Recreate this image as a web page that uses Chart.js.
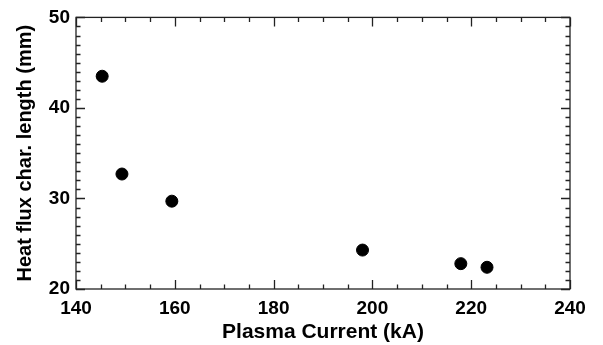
<!DOCTYPE html>
<html>
<head>
<meta charset="utf-8">
<script src="https://cdn.jsdelivr.net/npm/chart.js@4"></script>
<style>
  html, body { margin: 0; padding: 0; background: #fff; }
  canvas { display: block; }
</style>
</head>
<body>
<canvas id="fluxChart" width="603" height="345"></canvas>
<script>
// data
const plasmaCurrent = [145.3, 149.3, 159.4, 198.0, 217.9, 223.2]
const heatFluxLength = [43.5, 32.7, 29.7, 24.3, 22.8, 22.4]

const xTicks = [140, 160, 180, 200, 220, 240]
const yTicks = [20, 30, 40, 50]
const xMinorStep = 5
const yMinorStep = 1

const font = 'Liberation Sans, Arial, Helvetica, sans-serif'

// IDL style: box around the plot, ticks pointing inward on all four sides
const boxTicks = {
  id: 'boxTicks',
  afterDraw(chart) {
    const { ctx, chartArea: a, scales } = chart
    const x = scales.x, y = scales.y
    ctx.save()
    ctx.strokeStyle = '#222'
    ctx.lineWidth = 1.3
    ctx.strokeRect(a.left, a.top, a.right - a.left, a.bottom - a.top)
    ctx.beginPath()
    for (let v = x.min; v <= x.max + 1e-9; v += xMinorStep) {
      const px = Math.round(x.getPixelForValue(v)) + 0.5
      const len = xTicks.includes(v) ? 9 : 4.5
      ctx.moveTo(px, a.bottom); ctx.lineTo(px, a.bottom - len)
      ctx.moveTo(px, a.top); ctx.lineTo(px, a.top + len)
    }
    for (let v = y.min; v <= y.max + 1e-9; v += yMinorStep) {
      const py = Math.round(y.getPixelForValue(v)) + 0.5
      const len = yTicks.includes(v) ? 9 : 4.5
      ctx.moveTo(a.left, py); ctx.lineTo(a.left + len, py)
      ctx.moveTo(a.right, py); ctx.lineTo(a.right - len, py)
    }
    ctx.stroke()
    ctx.restore()
  }
}

const ctx = document.getElementById('fluxChart').getContext('2d')
const chart = new Chart(ctx, {
  type: 'scatter',
  data: {
    datasets: [{
      data: plasmaCurrent.map((v, i) => ({ x: v, y: heatFluxLength[i] })),
      backgroundColor: '#000',
      borderColor: '#000',
      pointRadius: 6,
      pointHoverRadius: 6
    }]
  },
  options: {
    responsive: false,
    animation: false,
    devicePixelRatio: 1,
    layout: { padding: { top: 11, right: 33, left: 0, bottom: 0 } },
    plugins: { legend: { display: false }, tooltip: { enabled: false } },
    scales: {
      x: {
        type: 'linear',
        min: 140,
        max: 240,
        afterBuildTicks: s => { s.ticks = xTicks.map(v => ({ value: v })) },
        afterFit: s => { s.height = 56 },
        grid: { display: false, drawTicks: false },
        border: { display: false },
        ticks: { color: '#000', padding: 8, maxRotation: 0, font: { family: font, size: 19, weight: 'bold' } },
        title: {
          display: true,
          text: 'Plasma Current (kA)',
          color: '#000',
          padding: { top: 0, bottom: 0 },
          font: { family: font, size: 21, weight: 'bold' }
        }
      },
      y: {
        type: 'linear',
        min: 20,
        max: 50,
        afterBuildTicks: s => { s.ticks = yTicks.map(v => ({ value: v })) },
        afterFit: s => { s.width = 76 },
        grid: { display: false, drawTicks: false },
        border: { display: false },
        ticks: { color: '#000', padding: 6, font: { family: font, size: 19, weight: 'bold' } },
        title: {
          display: true,
          text: 'Heat flux char. length (mm)',
          color: '#000',
          padding: { top: 13, bottom: 0 },
          font: { family: font, size: 20, weight: 'bold' }
        }
      }
    }
  },
  plugins: [boxTicks]
})
</script>
</body>
</html>
